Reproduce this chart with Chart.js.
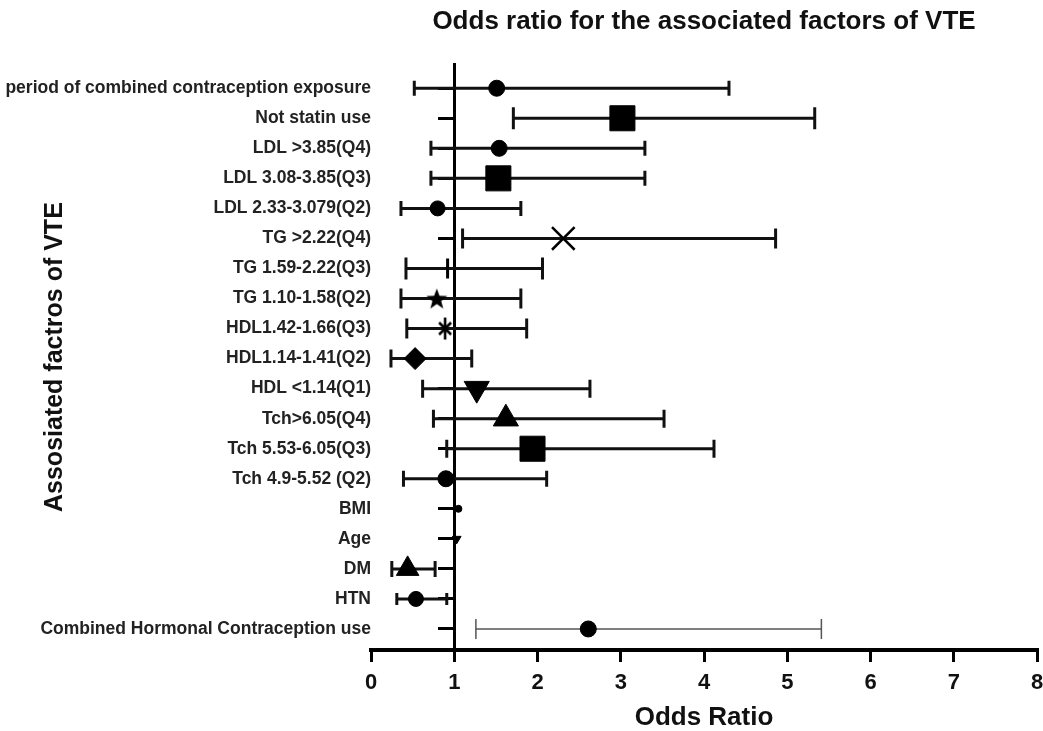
<!DOCTYPE html>
<html lang="en">
  <head>
    <meta charset="UTF-8" />
    <title>Odds ratio for the associated factors of VTE</title>
    <script src="https://cdn.jsdelivr.net/npm/chart.js"></script>
    <style>
      html, body { margin: 0; padding: 0; background: #fff; }
      #wrap { width: 1043px; height: 731px; position: relative; }
    </style>
  </head>
  <body>
    <div id="wrap"><canvas id="orChart"></canvas></div>
    <script>
      const factors = [
        "period of combined contraception exposure",
        "Not statin use",
        "LDL >3.85(Q4)",
        "LDL 3.08-3.85(Q3)",
        "LDL 2.33-3.079(Q2)",
        "TG >2.22(Q4)",
        "TG 1.59-2.22(Q3)",
        "TG 1.10-1.58(Q2)",
        "HDL1.42-1.66(Q3)",
        "HDL1.14-1.41(Q2)",
        "HDL <1.14(Q1)",
        "Tch>6.05(Q4)",
        "Tch 5.53-6.05(Q3)",
        "Tch 4.9-5.52 (Q2)",
        "BMI",
        "Age",
        "DM",
        "HTN",
        "Combined Hormonal Contraception use",
      ];
      const oddsRatio = [1.51, 3.02, 1.54, 1.53, 0.8, 2.31, 0.92, 0.79, 0.89, 0.53, 1.27, 1.62, 1.94, 0.9, 1.05, 1.03, 0.44, 0.54, 2.61];
      const lowerCI = [0.52, 1.71, 0.72, 0.72, 0.36, 1.1, 0.42, 0.36, 0.43, 0.24, 0.62, 0.75, 0.91, 0.39, 1.02, 1.01, 0.25, 0.31, 1.26];
      const upperCI = [4.3, 5.33, 3.29, 3.29, 1.8, 4.86, 2.06, 1.8, 1.87, 1.21, 2.63, 3.52, 4.12, 2.11, 1.08, 1.05, 0.77, 0.91, 5.41];
      const xTicks = [0, 1, 2, 3, 4, 5, 6, 7, 8];

      // filled five point star (TG Q2 row)
      function makeStar() {
        const c = document.createElement("canvas");
        c.width = 24;
        c.height = 24;
        const g = c.getContext("2d");
        g.fillStyle = "#000";
        g.beginPath();
        for (let k = 0; k < 10; k++) {
          const r = k % 2 === 0 ? 11 : 4.6;
          const a = -Math.PI / 2 + (k * Math.PI) / 5;
          g.lineTo(12 + r * Math.cos(a), 13 + r * Math.sin(a));
        }
        g.closePath();
        g.fill();
        return c;
      }
      // six spoke asterisk (HDL Q3 row)
      function makeAsterisk() {
        const c = document.createElement("canvas");
        c.width = 18;
        c.height = 26;
        const g = c.getContext("2d");
        g.strokeStyle = "#000";
        g.lineWidth = 2.6;
        g.beginPath();
        g.moveTo(9, 2);
        g.lineTo(9, 24);
        g.moveTo(3, 7);
        g.lineTo(15, 19);
        g.moveTo(15, 7);
        g.lineTo(3, 19);
        g.stroke();
        return c;
      }
      const star = makeStar();
      const asterisk = makeAsterisk();

      // marker style per row
      const markerStyle = ["circle", "rect", "circle", "rect", "circle", "crossRot", "line", star, asterisk, "rectRot", "triangle", "triangle", "rect", "circle", "circle", "triangle", "triangle", "circle", "circle"];
      const markerSize = [8, 17.7, 8, 17.7, 7.5, 16, 10, 10, 11, 11, 14.5, 14.5, 17.7, 8, 3.5, 5, 13, 7.5, 8];
      const markerRot = [0, 0, 0, 0, 0, 0, 90, 0, 0, 0, 180, 0, 0, 0, 0, 180, 0, 0, 0];
      const capSize = [7.5, 11, 7.5, 7.5, 7.5, 10, 11, 10, 10, 9, 9, 9, 9, 8, 0, 0, 8, 6, 10];

      const ciSets = factors.map((f, i) => {
        const thin = i === factors.length - 1;
        const col = thin ? "#555" : "#111";
        return {
          label: f,
          data: [
            { x: lowerCI[i], y: i },
            { x: upperCI[i], y: i },
          ],
          showLine: true,
          borderColor: col,
          borderWidth: thin ? 1.5 : 3,
          pointStyle: "line",
          pointRotation: 90,
          pointRadius: capSize[i],
          pointBorderWidth: thin ? 1.5 : 3,
          pointBorderColor: col,
          xAxisID: "x",
          yAxisID: "y",
          order: 1,
        };
      });

      const markerSet = {
        label: "Odds ratio",
        data: factors.map((f, i) => ({ x: oddsRatio[i], y: i })),
        pointStyle: markerStyle,
        pointRadius: markerSize,
        pointRotation: markerRot,
        backgroundColor: "#000",
        borderColor: "#000",
        borderWidth: markerStyle.map((s) => (s === "crossRot" ? 2.5 : s === "line" ? 3 : 1)),
        xAxisID: "x",
        yAxisID: "y",
        order: 0,
      };

      const rowTicks = (scale) => {
        scale.ticks = factors.map((f, i) => ({ value: i }));
      };

      new Chart(document.getElementById("orChart"), {
        type: "scatter",
        data: { datasets: [markerSet, ...ciSets] },
        options: {
          responsive: true,
          maintainAspectRatio: false,
          animation: false,
          events: [],
          layout: { padding: 0, autoPadding: false },
          plugins: {
            legend: { display: false },
            tooltip: { enabled: false },
            title: {
              display: true,
              text: "Odds ratio for the associated factors of VTE",
              fullSize: false,
              color: "#111",
              font: { family: "Liberation Sans", size: 26, weight: "bold" },
              padding: { top: 6, bottom: 27 },
            },
          },
          scales: {
            x: {
              type: "linear",
              position: "bottom",
              min: 0,
              max: 8,
              afterBuildTicks: (s) => {
                s.ticks = xTicks.map((v) => ({ value: v }));
              },
              afterFit: (s) => {
                s.height = 81;
                s.paddingRight = 6;
              },
              border: { display: true, color: "#000", width: 4 },
              grid: { drawOnChartArea: false, color: "#000", lineWidth: 3, tickLength: 12 },
              ticks: {
                color: "#111",
                padding: 8,
                font: { family: "Liberation Sans", size: 22, weight: "bold" },
              },
              title: {
                display: true,
                text: "Odds Ratio",
                color: "#111",
                font: { family: "Liberation Sans", size: 26, weight: "bold", lineHeight: 1 },
                padding: { top: 0, bottom: 0 },
              },
            },
            y: {
              type: "linear",
              position: "left",
              reverse: true,
              min: -0.8,
              max: 18.7,
              afterBuildTicks: rowTicks,
              afterFit: (s) => {
                s.width = 371;
              },
              border: { display: false },
              grid: { display: false, drawTicks: false },
              ticks: {
                color: "#222",
                padding: 0,
                autoSkip: false,
                font: { family: "Liberation Sans", size: 17.5, weight: "bold" },
                callback: (v) => factors[v] ?? "",
              },
              title: {
                display: true,
                text: "Assosiated factros of VTE",
                color: "#111",
                font: { family: "Liberation Sans", size: 25, weight: "bold" },
                padding: { top: 40, bottom: 0 },
              },
            },
            // reference axis at OR = 1 with row ticks
            y2: {
              type: "linear",
              position: { x: 1 },
              reverse: true,
              min: -0.8,
              max: 18.7,
              afterBuildTicks: rowTicks,
              afterFit: (s) => {
                s.width = 0;
              },
              border: { display: true, color: "#000", width: 3 },
              grid: { drawOnChartArea: false, color: "#000", lineWidth: 3, tickLength: 15 },
              ticks: { display: false },
            },
          },
        },
      });
    </script>
  </body>
</html>
